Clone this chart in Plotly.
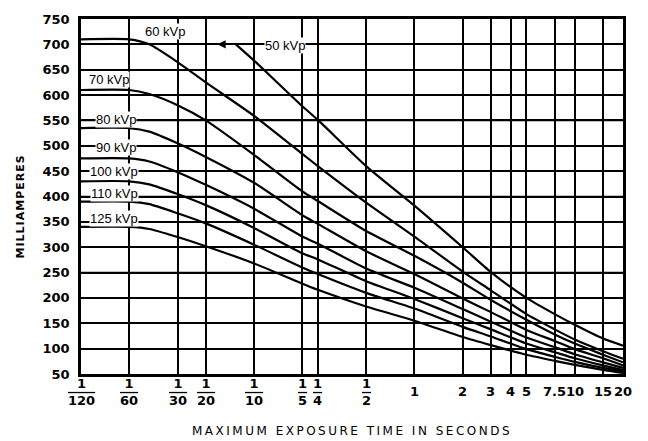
import math
import plotly.graph_objects as go

# Exposure times (seconds) where each rating curve is sampled
times = [1/120, 1/60, 1/45, 1/30, 1/20, 1/10, 1/5, 1/4, 1/2, 1, 2, 3, 5, 7.5, 10, 15, 20]

# Maximum tube current (mA) per kVp setting
ma_60 = [710, 710, 700, 665, 625, 559, 484, 460, 388, 321, 252, 215, 168, 138, 118, 95, 80]
ma_70 = [610, 610, 602, 580, 550, 482, 410, 391, 332, 283, 230, 196, 157, 128, 110, 88, 73]
ma_80 = [535, 535, 528, 505, 478, 427, 363, 346, 292, 247, 199, 172, 137, 115, 99, 81, 67]
ma_90 = [475, 475, 469, 448, 423, 376, 321, 307, 258, 220, 178, 153, 122, 103, 89, 73, 62]
ma_100 = [430, 430, 424, 405, 383, 338, 288, 276, 233, 198, 160, 138, 110, 93, 81, 67, 58]
ma_110 = [390, 390, 385, 367, 347, 305, 260, 247, 210, 179, 143, 124, 99, 84, 74, 62, 55]
ma_125 = [340, 340, 336, 320, 302, 268, 228, 216, 183, 155, 123, 107, 88, 76, 68, 58, 52]

# 50 kVp curve starts later
times_50 = [0.077, 1/10, 1/5, 1/4, 1/2, 1, 2, 3, 5, 7.5, 10, 15, 20]
ma_50 = [700, 668, 578, 551, 460, 382, 300, 251, 200, 168, 147, 120, 106]

# Axis ticks
tick_times = [1/120, 1/60, 1/30, 1/20, 1/10, 1/5, 1/4, 1/2, 1, 2, 3, 4, 5, 7.5, 10, 15, 20]
tick_labels = ["1/120", "1/60", "1/30", "1/20", "1/10", "1/5", "1/4", "1/2",
               "1", "2", "3", "4", "5", "7.5", "10", "15", "20"]
ma_ticks = list(range(50, 751, 50))

curve_names = ["60 kVp", "70 kVp", "80 kVp", "90 kVp", "100 kVp", "110 kVp", "125 kVp"]
curve_values = [ma_60, ma_70, ma_80, ma_90, ma_100, ma_110, ma_125]

# Curve label placement (time, mA)
label_pos = {
    "50 kVp": (0.157, 697),
    "60 kVp": (0.028, 725),
    "70 kVp": (0.0125, 631),
    "80 kVp": (0.0138, 551),
    "90 kVp": (0.0138, 497),
    "100 kVp": (0.0134, 450),
    "110 kVp": (0.0134, 406),
    "125 kVp": (0.0134, 357),
}
arrow_tip_time = 0.059

fig = go.Figure()

# Horizontal rulings of the chart paper, one per mA tick
for v in ma_ticks[1:-1]:
    fig.add_shape(type="line", xref="paper", x0=0, x1=1, yref="y", y0=v, y1=v,
                  line=dict(color="black", width=1.5), layer="below")

line_style = dict(color="black", width=2.2, shape="spline", smoothing=0.6)

fig.add_trace(go.Scatter(x=times_50, y=ma_50, mode="lines", line=line_style,
                         name="50 kVp", showlegend=False))
for name, vals in zip(curve_names, curve_values):
    fig.add_trace(go.Scatter(x=times, y=vals, mode="lines", line=line_style,
                             name=name, showlegend=False))

label_font = dict(family="Liberation Sans", size=13, color="black")
for text, (t, ma) in label_pos.items():
    fig.add_annotation(
        x=math.log10(t), y=ma, xref="x", yref="y",
        text=text,
        showarrow=False, bgcolor="white", borderpad=0,
        font=label_font, xanchor="center", yanchor="middle",
    )

# Arrow pointing from the start of the 50 kVp curve
fig.add_annotation(
    x=math.log10(arrow_tip_time), y=ma_50[0], xref="x", yref="y",
    ax=math.log10(times_50[0]), ay=ma_50[0], axref="x", ayref="y",
    text="", showarrow=True, arrowhead=2, arrowsize=1.2, arrowwidth=1.4,
    arrowcolor="black",
)

# Stacked-fraction tick labels along the time axis
tick_font = dict(family="DejaVu Sans", size=13, color="black", weight="bold")
for t, lab in zip(tick_times, tick_labels):
    if "/" in lab:
        num, den = lab.split("/")
        txt = num + '<br><span style="text-decoration:overline">' + den + "</span>"
    else:
        txt = lab
    fig.add_annotation(
        x=math.log10(t), y=-0.05, xref="x", yref="paper",
        text=txt, showarrow=False, font=tick_font,
        xanchor="center", yanchor="middle",
    )

fig.add_annotation(
    x=0.5, y=-0.161, xref="paper", yref="paper",
    text='<span style="letter-spacing:2.5px">MAXIMUM EXPOSURE TIME IN SECONDS</span>',
    showarrow=False, font=dict(family="DejaVu Sans", size=12, color="black"),
    xanchor="center", yanchor="middle",
)
fig.add_annotation(
    x=-0.1125, y=0.472, xref="paper", yref="paper",
    text='<span style="letter-spacing:1px">MILLIAMPERES</span>', textangle=-90,
    showarrow=False, font=dict(family="DejaVu Sans", size=11, color="black", weight="bold"),
    xanchor="center", yanchor="middle",
)

fig.update_xaxes(
    type="log", range=[math.log10(1/120), math.log10(20)],
    tickmode="array", tickvals=tick_times, showticklabels=False,
    showgrid=True, gridcolor="black", gridwidth=1.5,
    showline=True, linecolor="black", linewidth=2.5, mirror=True,
    zeroline=False, ticks="",
)
fig.update_yaxes(
    range=[50, 750], tickmode="array", tickvals=ma_ticks,
    showgrid=True, gridcolor="black", gridwidth=1.5,
    showline=True, linecolor="black", linewidth=2.5, mirror=True,
    zeroline=False, ticks="outside", ticklen=6, tickcolor="white",
    tickfont=dict(family="DejaVu Sans", size=13, color="black", weight="bold"),
)

fig.update_layout(
    width=648, height=441,
    margin=dict(l=81, r=25, t=14, b=67),
    paper_bgcolor="white", plot_bgcolor="white",
    showlegend=False,
)

fig.write_html("out.html")
